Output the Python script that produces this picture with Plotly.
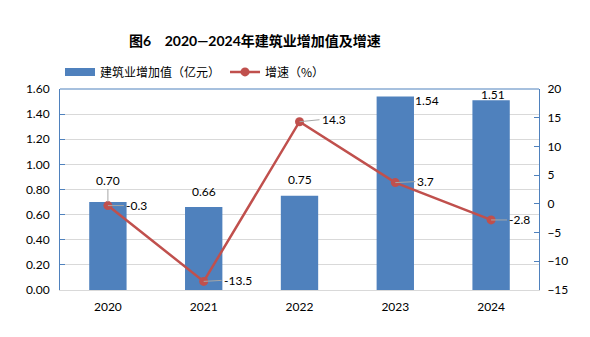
import plotly.graph_objects as go

years = ["2020", "2021", "2022", "2023", "2024"]
value_added = [0.70, 0.66, 0.75, 1.54, 1.51]
growth = [-0.3, -13.5, 14.3, 3.7, -2.8]
value_labels = ["0.70", "0.66", "0.75", "1.54", "1.51"]
growth_labels = ["-0.3", "-13.5", "14.3", "3.7", "-2.8"]

BLUE = "#4F81BD"
RED = "#C0504D"
AXIS = "#4F81BD"
GRID = "#D9D9D9"
NUM_FONT = "Lato, Liberation Sans, sans-serif"
CJK_FONT = "Noto Sans CJK SC, sans-serif"
MIX_FONT = "Lato, Noto Sans CJK SC, sans-serif"

fig = go.Figure()
fig.add_trace(go.Bar(
    x=years, y=value_added, name="建筑业增加值（亿元）",
    marker=dict(color=BLUE, line=dict(width=0)), width=0.39,
    yaxis="y", hoverinfo="skip", showlegend=False,
))
# legend key for the bars (wide rectangle style), draws no data
fig.add_trace(go.Scatter(
    x=[None], y=[None], name="建筑业增加值（亿元）", mode="lines",
    line=dict(color=BLUE, width=8), hoverinfo="skip", showlegend=True,
))
fig.add_trace(go.Scatter(
    x=years, y=growth, name="增速（%）", mode="lines+markers",
    line=dict(color=RED, width=2.5), marker=dict(color=RED, size=9),
    yaxis="y2", hoverinfo="skip",
))

# bar value labels (offsets in pixels); category axis -> use serial index
bar_offsets = [(0, -22, True), (0, -16, False), (0, -16, False), (32, 4, False), (2, -6, False)]
for i, (v, lab, (ax, ay, arrow)) in enumerate(zip(value_added, value_labels, bar_offsets)):
    fig.add_annotation(
        x=i, y=v, xref="x", yref="y", text=lab, showarrow=True,
        arrowhead=0, arrowwidth=1, arrowcolor="#A6A6A6" if arrow else "rgba(0,0,0,0)",
        ax=ax, ay=ay, font=dict(family=NUM_FONT, size=12, color="#000000"),
    )

# growth labels with leader lines
g_offsets = [(16, 0), (18, -1), (20, -2), (20, -1), (16, 0)]
for i, (g, lab, (ax, ay)) in enumerate(zip(growth, growth_labels, g_offsets)):
    fig.add_annotation(
        x=i, y=g, xref="x", yref="y2", text=lab, showarrow=True,
        arrowhead=0, arrowwidth=1, arrowcolor="#A6A6A6", standoff=0,
        ax=ax, ay=ay, xanchor="left",
        font=dict(family=NUM_FONT, size=12, color="#000000"),
    )

fig.update_layout(
    width=590, height=337,
    margin=dict(l=60, r=51, t=89, b=47),
    paper_bgcolor="white", plot_bgcolor="white",
    title=dict(text="<b>图6    2020—2024年建筑业增加值及增速</b>",
               x=0.432, xanchor="center", y=0.878, yanchor="middle",
               font=dict(family=MIX_FONT, size=14, color="#000000")),
    legend=dict(orientation="h", x=0.0, xanchor="left", y=1.085, yanchor="middle",
                font=dict(family=CJK_FONT, size=12, color="#000000"),
                itemwidth=30, tracegroupgap=0, bgcolor="rgba(0,0,0,0)"),
    showlegend=True,
    xaxis=dict(type="category", range=[-0.5, 4.5], showgrid=False, showline=True,
               linecolor=GRID, linewidth=1,
               ticks="", tickfont=dict(family=NUM_FONT, size=12, color="#000000"),
               ticklabelstandoff=6),
    yaxis=dict(range=[0, 1.6], dtick=0.2, tickformat=".2f", showgrid=True,
               gridcolor=GRID, gridwidth=1, showline=True, linecolor=AXIS, linewidth=1,
               ticks="inside", ticklen=5, tickcolor=AXIS, zeroline=False,
               ticklabelstandoff=7,
               tickfont=dict(family=NUM_FONT, size=12, color="#000000"), mirror=False),
    yaxis2=dict(range=[-15, 20], dtick=5, overlaying="y", side="right", showgrid=False,
                showline=True, linecolor=AXIS, linewidth=1, ticks="inside", ticklen=5,
                tickcolor=AXIS, zeroline=False, ticklabelstandoff=5,
                tickfont=dict(family=NUM_FONT, size=12, color="#000000")),
)
# top border line of plot area
fig.add_shape(type="line", xref="paper", yref="paper", x0=0, x1=1, y0=1, y1=1,
              line=dict(color=AXIS, width=1))

fig.write_html("out.html")
